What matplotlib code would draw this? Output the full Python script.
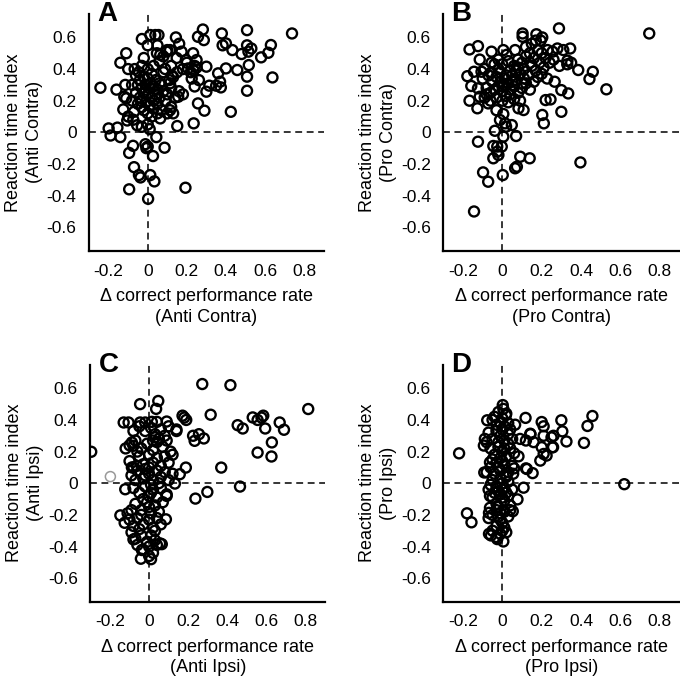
import matplotlib
matplotlib.use("Agg")
import matplotlib.pyplot as plt
import numpy as np

plt.rcParams['font.family'] = ['Liberation Sans', 'DejaVu Sans']
plt.rcParams['axes.unicode_minus'] = False

# --- data: (delta correct rate, reaction time index) ---
pts_a = [(-0.242,0.282),(-0.20,0.025),(-0.19,-0.02),(-0.155,0.03),(-0.14,-0.03),(-0.16,0.27),
         (-0.14,0.44),(-0.11,0.50),(-0.10,0.40),(-0.115,0.30),(-0.12,0.225),(-0.11,0.215),
         (-0.125,0.145),(-0.10,0.10),(-0.105,0.075),(-0.074,0.08),(-0.054,0.045),(-0.03,0.035),
         (0.0,0.05),(0.01,0.02),(-0.075,-0.085),(-0.095,-0.13),(-0.07,-0.22),(-0.045,-0.27),
         (-0.037,-0.285),(-0.012,-0.075),(-0.007,-0.10),(0.0,-0.09),(0.027,-0.15),(0.044,-0.03),
         (0.086,-0.097),(0.013,-0.27),(0.034,-0.31),(-0.095,-0.36),(0.002,-0.42),(0.193,-0.35),
         (-0.03,0.59),(0.013,0.615),(0.039,0.615),(0.055,0.615),(0.0,0.55),(-0.02,0.47),
         (-0.067,0.40),(-0.045,0.38),(0.047,0.50),(0.064,0.49),(0.097,0.51),(0.114,0.52),
         (0.144,0.60),(0.161,0.56),(0.148,0.47),(0.173,0.51),(0.089,0.40),(0.123,0.36),
         (0.114,0.31),(0.156,0.225),(0.114,0.14),(0.064,0.088),(0.151,0.04),(0.235,0.057),
         (0.257,0.183),(0.29,0.137),(0.425,0.13),(0.195,0.457),(0.232,0.50),(0.25,0.457),
         (0.206,0.404),(0.235,0.39),(0.25,0.41),(0.225,0.34),(0.24,0.29),(0.257,0.604),
         (0.282,0.65),(0.287,0.583),(0.262,0.33),(0.30,0.415),(0.30,0.257),(0.315,0.295),
         (0.35,0.295),(0.374,0.284),(0.36,0.373),(0.37,0.32),(0.40,0.404),(0.379,0.625),
         (0.383,0.55),(0.40,0.562),(0.433,0.52),(0.458,0.394),(0.48,0.495),(0.508,0.646),
         (0.508,0.55),(0.515,0.51),(0.517,0.425),(0.508,0.352),(0.508,0.263),(0.53,0.53),
         (0.58,0.474),(0.617,0.503),(0.63,0.552),(0.638,0.347),(0.738,0.625),
         (-0.06,0.36),(-0.04,0.33),(-0.02,0.35),(0.0,0.34),(0.02,0.37),(0.04,0.33),(-0.05,0.3),
         (-0.03,0.28),(-0.01,0.3),(0.01,0.28),(0.03,0.29),(0.05,0.27),(0.07,0.3),(-0.06,0.25),
         (-0.04,0.22),(-0.02,0.25),(0.0,0.24),(0.02,0.22),(0.04,0.24),(0.06,0.22),(0.08,0.26),
         (-0.05,0.18),(-0.03,0.16),(-0.01,0.19),(0.01,0.17),(0.03,0.15),(0.05,0.18),(0.07,0.14),
         (0.09,0.2),(0.1,0.24),(0.12,0.28),(0.11,0.33),(0.08,0.38),(-0.08,0.3),(-0.08,0.2),
         (-0.07,0.13),(0.0,0.12),(0.02,0.1),(0.05,0.12),(0.1,0.12),(0.13,0.12),(0.12,0.16),
         (0.14,0.22),(0.16,0.26),(0.18,0.24),(0.13,0.35),(0.06,0.45),(0.03,0.42),(0.0,0.4),
         (-0.03,0.42),(0.08,0.48),(0.1,0.52),(0.05,0.55),(0.12,0.42),(0.15,0.38),(0.2,0.44),
         (0.22,0.38),(0.24,0.42),(0.18,0.4),(-0.01,0.27),(0.015,0.31),(0.03,0.2),(-0.035,0.2),
         (0.06,0.31),(-0.02,0.14)]

pts_b = [(0.747,0.625),(0.288,0.657),(0.103,0.625),(0.103,0.604),(0.173,0.62),(0.203,0.60),
         (0.195,0.58),(-0.167,0.524),(-0.124,0.545),(-0.115,0.46),(-0.178,0.355),(-0.144,0.383),
         (-0.106,0.383),(-0.158,0.293),(-0.124,0.278),(-0.115,0.225),(-0.167,0.20),(-0.127,0.152),
         (-0.055,0.51),(-0.055,0.44),(-0.055,0.38),(0.005,0.52),(0.022,0.49),(0.065,0.52),
         (-0.072,0.183),(-0.03,0.14),(0.005,0.116),(-0.012,0.078),(0.014,0.057),(0.048,0.046),
         (-0.038,0.01),(0.005,-0.027),(0.07,-0.023),(0.019,0.036),(-0.124,-0.059),(-0.046,-0.086),
         (-0.026,-0.09),(-0.003,-0.09),(-0.026,-0.122),(-0.02,-0.143),(-0.046,-0.164),(0.091,-0.154),
         (0.139,-0.164),(0.065,-0.227),(0.074,-0.217),(-0.098,-0.253),(-0.072,-0.312),(0.002,-0.27),
         (-0.144,-0.50),(0.397,-0.19),(0.108,0.141),(0.082,0.152),(0.203,0.11),(0.211,0.057),
         (0.22,0.204),(0.245,0.208),(0.30,0.13),(0.30,0.267),(0.335,0.246),(0.266,0.32),
         (0.228,0.34),(0.386,0.394),(0.443,0.337),(0.46,0.383),(0.529,0.272),(0.345,0.53),
         (0.331,0.453),(0.31,0.52),(0.28,0.53),(0.35,0.44),(0.33,0.43),(0.23,0.52),(0.255,0.51),
         (0.26,0.46),(0.29,0.42),
         (-0.09,0.40),(-0.07,0.36),(-0.05,0.32),(-0.03,0.35),(-0.01,0.38),(0.01,0.34),(0.03,0.31),
         (0.05,0.36),(0.07,0.33),(0.09,0.37),(0.11,0.40),(0.13,0.36),(0.15,0.42),(0.17,0.39),
         (0.19,0.44),(0.21,0.41),(-0.08,0.28),(-0.06,0.25),(-0.04,0.27),(-0.02,0.29),(0.0,0.26),
         (0.02,0.23),(0.04,0.27),(0.06,0.29),(0.08,0.25),(0.10,0.28),(0.12,0.31),(0.14,0.27),
         (0.16,0.32),(-0.09,0.22),(-0.06,0.20),(-0.03,0.22),(0.0,0.20),(0.03,0.19),(0.06,0.21),
         (0.09,0.2),(-0.04,0.43),(-0.02,0.46),(0.0,0.43),(0.03,0.45),(0.06,0.42),(0.08,0.46),
         (0.1,0.44),(0.12,0.48),(0.14,0.5),(0.16,0.47),(0.18,0.52),(0.2,0.5),(0.22,0.47),
         (0.24,0.44),(0.15,0.56),(0.17,0.58),(0.12,0.54),(0.01,0.30),(0.04,0.39),(-0.01,0.32),
         (0.07,0.39),(0.11,0.34),(0.18,0.35),(0.2,0.37),(-0.1,0.34),(-0.08,0.24),(0.02,0.36),
         (0.05,0.32),(-0.02,0.4),(0.08,0.41),(0.1,0.31),(0.0,0.29),(0.14,0.44),(0.04,0.24)]

pts_c = [(-0.296,0.199),(-0.046,0.50),(0.047,0.52),(0.036,0.47),(0.272,0.627),(0.416,0.62),
         (0.814,0.469),(0.171,0.427),(0.18,0.415),(0.19,0.40),(0.315,0.433),(0.225,0.30),
         (0.233,0.268),(0.255,0.31),(0.28,0.283),(0.14,0.33),(0.453,0.367),(0.479,0.346),
         (0.53,0.416),(0.555,0.40),(0.575,0.415),(0.584,0.427),(0.594,0.346),(0.668,0.384),
         (0.69,0.338),(0.628,0.258),(0.555,0.194),(0.626,0.169),(0.369,0.099),(0.188,0.099),
         (0.157,0.057),(0.132,-0.002),(0.09,-0.07),(0.237,-0.097),(0.298,-0.055),(0.465,-0.021),
         (-0.122,-0.038),(0.086,-0.228),(-0.147,-0.203),(-0.125,-0.25),(-0.08,-0.355),
         (-0.042,-0.477),(0.01,-0.48),(0.0,-0.46),(-0.037,-0.422),(0.056,-0.38),(0.065,-0.385),
         (-0.13,0.384),(-0.105,0.384),(-0.046,0.384),(-0.02,0.384),(0.014,0.388),(0.04,0.388),
         (0.09,0.39),(0.14,0.34),(-0.088,0.258),(-0.08,0.237),(-0.088,0.10),(-0.063,0.11),
         (-0.08,0.33),(-0.05,0.36),(-0.02,0.33),(0.01,0.35),(0.03,0.31),(0.06,0.34),(0.08,0.3),
         (0.1,0.36),(0.05,0.28),(-0.1,0.24),(-0.12,0.22),(-0.07,0.27),(-0.04,0.22),(-0.01,0.25),
         (0.02,0.21),(0.04,0.26),(0.07,0.23),(0.09,0.27),(0.11,0.2),(0.03,0.29),(-0.1,0.14),
         (-0.08,0.1),(-0.05,0.17),(-0.03,0.12),(0.0,0.18),(0.02,0.13),(0.04,0.16),(0.06,0.11),
         (0.08,0.17),(0.1,0.13),(0.12,0.18),(-0.06,0.2),(0.0,0.1),(-0.09,0.05),(-0.06,0.08),
         (-0.03,0.03),(0.0,0.06),(0.02,0.02),(0.04,0.08),(0.06,0.04),(0.08,0.07),(0.1,0.02),
         (0.12,0.06),(-0.02,0.09),(0.05,0.0),(-0.08,-0.03),(-0.05,-0.06),(-0.02,-0.02),
         (0.0,-0.08),(0.02,-0.04),(0.04,-0.09),(0.06,-0.03),(0.09,-0.08),(-0.03,-0.1),(0.01,-0.01),
         (-0.07,-0.13),(-0.04,-0.17),(-0.01,-0.12),(0.01,-0.19),(0.03,-0.14),(0.05,-0.18),
         (0.07,-0.12),(-0.09,-0.17),(0.0,-0.15),(-0.11,-0.19),(-0.1,-0.23),(-0.08,-0.27),
         (-0.06,-0.22),(-0.03,-0.26),(0.0,-0.23),(0.02,-0.28),(0.04,-0.22),(0.06,-0.26),
         (-0.05,-0.29),(0.03,-0.3),(-0.09,-0.31),(-0.07,-0.35),(-0.04,-0.33),(-0.01,-0.37),
         (0.01,-0.33),(0.03,-0.36),(-0.06,-0.39),(0.0,-0.4),(0.04,-0.39),(-0.03,-0.42),(0.02,-0.44),
         (-0.02,0.05),(0.01,-0.06),(-0.04,-0.2),(0.02,0.27),(-0.07,0.02)]
pts_c_gray = [(-0.198,0.042)]

pts_d = [(-0.22,0.189),(-0.18,-0.19),(-0.157,-0.247),(0.62,-0.006),(0.458,0.425),(0.433,0.362),
         (0.415,0.255),(0.30,0.398),(0.305,0.328),(0.326,0.264),(0.26,0.30),(0.258,0.228),
         (0.20,0.387),(0.21,0.36),(0.21,0.30),(0.20,0.228),(0.21,0.185),(0.225,0.175),(0.193,0.143),
         (0.118,0.413),(0.142,0.313),(0.159,0.26),(0.12,0.27),(0.09,0.28),(0.082,0.17),(0.12,0.094),
         (0.154,0.064),(0.108,-0.028),(0.077,-0.102),(0.053,-0.177),(0.06,0.094),(0.055,0.06),
         (0.065,0.37),(-0.077,0.398),(-0.089,0.28),(-0.094,0.238),(-0.092,0.068),(-0.063,0.132),
         (-0.07,-0.04),(-0.063,-0.08),(-0.068,-0.187),(-0.063,-0.155),(-0.068,-0.32),(-0.058,-0.33),
         (-0.026,-0.353),(0.005,-0.368),(0.002,0.494),(0.005,0.47),(0.018,0.43),(0.25,0.29),
         (0.254,0.227),(0.143,0.31),(0.125,0.09),
         (-0.04,0.42),(-0.02,0.45),(0.0,0.41),(0.02,0.44),(0.03,0.38),(-0.03,0.37),(0.01,0.36),
         (-0.05,0.4),(-0.07,0.32),(-0.05,0.28),(-0.03,0.33),(-0.01,0.3),(0.01,0.27),(0.03,0.31),
         (0.05,0.28),(-0.08,0.26),(0.0,0.34),(-0.02,0.26),(0.04,0.34),(-0.06,0.22),(-0.04,0.18),
         (-0.02,0.23),(0.0,0.2),(0.02,0.17),(0.04,0.22),(0.06,0.19),(-0.01,0.16),(0.03,0.25),
         (-0.05,0.15),(-0.06,0.1),(-0.03,0.13),(-0.01,0.08),(0.01,0.12),(0.03,0.07),(0.05,0.11),
         (-0.04,0.06),(0.0,0.14),(0.02,0.05),(-0.08,0.07),(-0.05,0.02),(-0.03,-0.02),(-0.01,0.03),
         (0.01,-0.03),(0.03,0.01),(0.05,-0.04),(-0.06,-0.01),(0.0,0.0),(0.02,0.04),(-0.02,-0.05),
         (-0.05,-0.09),(-0.03,-0.13),(-0.01,-0.07),(0.01,-0.11),(0.03,-0.08),(0.04,-0.14),
         (-0.02,-0.15),(0.0,-0.09),(0.02,-0.06),(-0.04,-0.06),(-0.05,-0.2),(-0.03,-0.17),
         (-0.01,-0.23),(0.01,-0.18),(0.03,-0.21),(0.04,-0.17),(0.0,-0.25),(-0.02,-0.21),
         (-0.07,-0.22),(-0.05,-0.3),(-0.03,-0.27),(-0.01,-0.32),(0.01,-0.28),(0.02,-0.31),
         (-0.03,-0.34),(0.0,-0.3),(-0.01,0.38),(0.01,0.22),(-0.02,0.1),(0.0,-0.04),(-0.01,-0.19)]

panel_letters = ['A', 'B', 'C', 'D']
conditions = ['Anti Contra', 'Pro Contra', 'Anti Ipsi', 'Pro Ipsi']
xticks = [-0.2, 0, 0.2, 0.4, 0.6, 0.8]
xticklabels = ['-0.2', '0', '0.2', '0.4', '0.6', '0.8']
yticks = [-0.6, -0.4, -0.2, 0, 0.2, 0.4, 0.6]
yticklabels = ['-0.6', '-0.4', '-0.2', '0', '0.2', '0.4', '0.6']

fig = plt.figure(figsize=(6.8, 6.84), dpi=100)
rects = [[0.131, 0.633, 0.345, 0.347], [0.652, 0.633, 0.347, 0.347],
         [0.133, 0.120, 0.345, 0.347], [0.652, 0.120, 0.347, 0.347]]
all_pts = [pts_a, pts_b, pts_c, pts_d]

for i in range(4):
    ax = fig.add_axes(rects[i])
    ax.axhline(0, color='black', lw=1.1, dashes=(4.5, 3), zorder=1)
    ax.axvline(0, color='black', lw=1.1, dashes=(4.5, 3), zorder=1)
    xs, ys = zip(*all_pts[i])
    ax.scatter(xs, ys, s=52, facecolors='none', edgecolors='black', linewidths=1.7, zorder=2)
    if i == 2:
        gx, gy = zip(*pts_c_gray)
        ax.scatter(gx, gy, s=52, facecolors='none', edgecolors='#999999', linewidths=1.1, zorder=2)
    ax.set_xlim(-0.3, 0.9)
    ax.set_ylim(-0.75, 0.75)
    ax.set_xticks(xticks)
    ax.set_xticklabels(xticklabels)
    ax.set_yticks(yticks)
    ax.set_yticklabels(yticklabels)
    ax.tick_params(length=0, pad=9, labelsize=12.5)
    for s in ['top', 'right']:
        ax.spines[s].set_visible(False)
    for s in ['left', 'bottom']:
        ax.spines[s].set_linewidth(1.6)
    ax.set_xlabel('\u0394 correct performance rate\n(' + conditions[i] + ')', fontsize=13,
                  labelpad=7, linespacing=1.25)
    ax.set_ylabel('Reaction time index\n(' + conditions[i] + ')', fontsize=13,
                  labelpad=3, linespacing=1.3)
    ax.text(0.035, 0.968, panel_letters[i], transform=ax.transAxes, fontsize=20,
            fontweight='bold', va='baseline', ha='left')

fig.savefig('out.png', dpi=100)
